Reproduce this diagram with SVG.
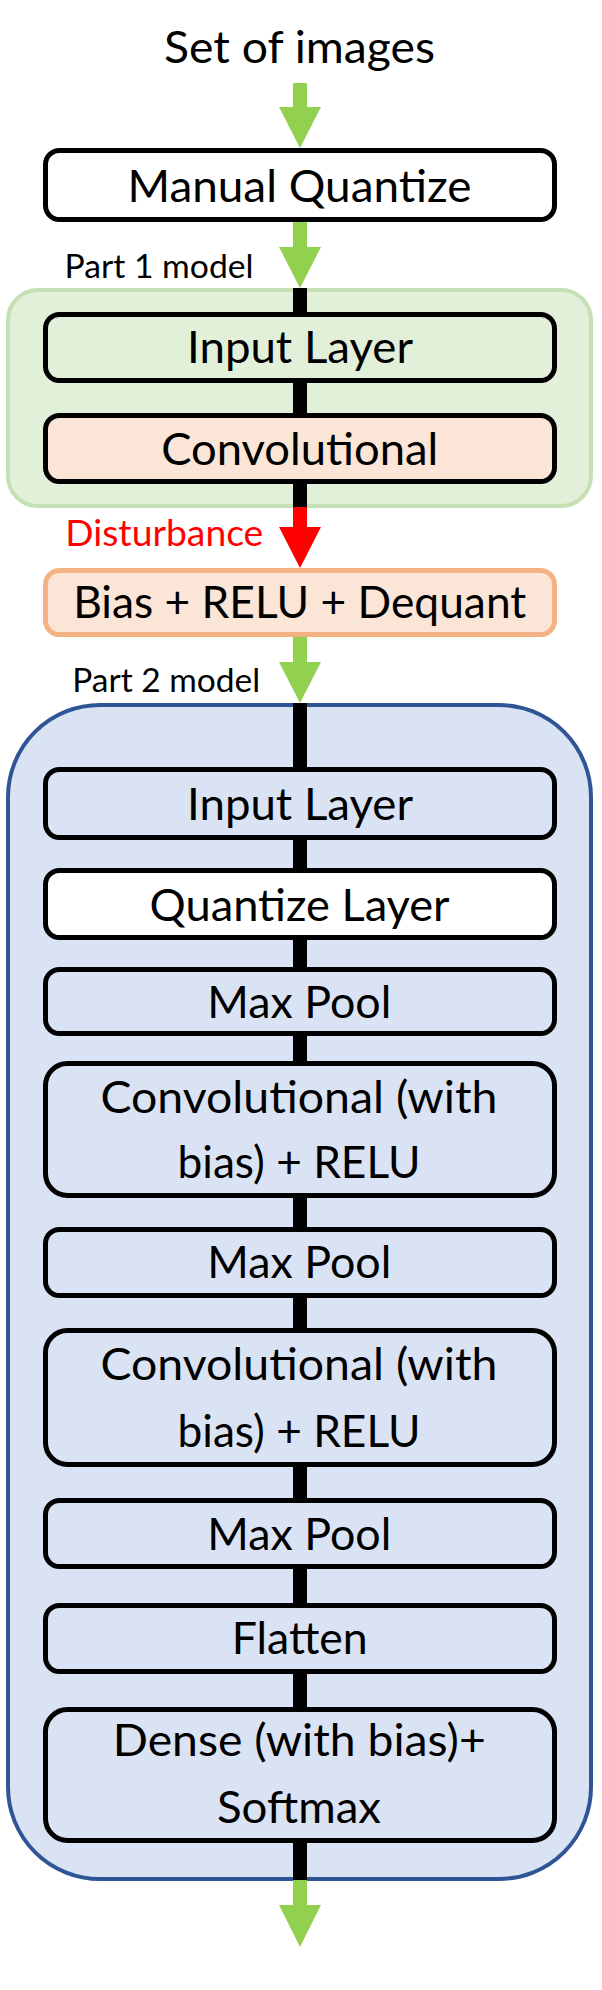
<svg xmlns="http://www.w3.org/2000/svg" width="602" height="1990" viewBox="0 0 602 1990">
<style>
text{font-family:Lato,"Open Sans","Liberation Sans",sans-serif;fill:#000;text-anchor:middle}
.big{font-size:44px}
.lbl{font-size:33px;text-anchor:start}
.box{stroke:#000;stroke-width:5}
.white{fill:#fff}
.green{fill:#E2F0D9}
.peach{fill:#FBE5D6}
.blue{fill:#DAE3F3}
.ga{fill:#92D050}
.ra{fill:#FF0000}
.wire{stroke:#000;stroke-width:14;fill:none}
</style>
<rect width="602" height="1990" fill="#fff"/>
<g id="part1-container">
<rect x="8" y="290" width="583" height="216" rx="30" fill="#E2F0D9" stroke="#C5E0B4" stroke-width="4"/>
</g>
<g id="part2-container">
<rect x="8" y="705" width="583" height="1174" rx="92" fill="#DAE3F3" stroke="#2F5597" stroke-width="4"/>
</g>
<g id="connectors">
<line class="wire" x1="300" y1="288" x2="300" y2="508"/>
<line class="wire" x1="300" y1="703" x2="300" y2="1881"/>
<polygon class="ga" points="293,83 307,83 307,107 321,107 300,148 279,107 293,107"/>
<polygon class="ga" points="293,222 307,222 307,247 321,247 300,288 279,247 293,247"/>
<polygon class="ra" points="293,507 307,507 307,527 321,527 300,568 279,527 293,527"/>
<polygon class="ga" points="293,637 307,637 307,662 321,662 300,703 279,662 293,662"/>
<polygon class="ga" points="293,1880 307,1880 307,1905 321,1905 300,1947 279,1905 293,1905"/>
</g>
<g id="label-set-of-images">
<text class="big" x="299.5" y="63" textLength="271" lengthAdjust="spacingAndGlyphs">Set of images</text>
</g>
<g id="manual-quantize">
<rect class="box white" x="45.5" y="150.5" width="509" height="69" rx="14"/>
<text class="big" x="299.5" y="202" textLength="344" lengthAdjust="spacingAndGlyphs">Manual Quantize</text>
</g>
<g id="label-part1">
<text class="lbl" x="64.5" y="278" textLength="189" lengthAdjust="spacingAndGlyphs">Part 1 model</text>
</g>
<g id="input-layer-1">
<rect class="box green" x="45.5" y="314.5" width="509" height="66" rx="14"/>
<text class="big" x="300" y="363" textLength="226" lengthAdjust="spacingAndGlyphs">Input Layer</text>
</g>
<g id="convolutional-1">
<rect class="box peach" x="45.5" y="415.5" width="509" height="66" rx="14"/>
<text class="big" x="299.7" y="465" textLength="277" lengthAdjust="spacingAndGlyphs">Convolutional</text>
</g>
<g id="label-disturbance">
<text x="65.3" y="546" style="font-size:36px;text-anchor:start;fill:#FF0000" textLength="198" lengthAdjust="spacingAndGlyphs">Disturbance</text>
</g>
<g id="bias-relu-dequant">
<rect x="45.5" y="570.5" width="509" height="64" rx="14" fill="#FBE5D6" stroke="#F4B183" stroke-width="5"/>
<text class="big" x="299.7" y="618" textLength="453" lengthAdjust="spacingAndGlyphs">Bias + RELU + Dequant</text>
</g>
<g id="label-part2">
<text class="lbl" x="72.2" y="692" textLength="188" lengthAdjust="spacingAndGlyphs">Part 2 model</text>
</g>
<g id="input-layer-2">
<rect class="box blue" x="45.5" y="769.5" width="509" height="68" rx="14"/>
<text class="big" x="300" y="820" textLength="226" lengthAdjust="spacingAndGlyphs">Input Layer</text>
</g>
<g id="quantize-layer">
<rect class="box white" x="45.5" y="870.5" width="509" height="67" rx="14"/>
<text class="big" x="299.6" y="921" textLength="300" lengthAdjust="spacingAndGlyphs">Quantize Layer</text>
</g>
<g id="max-pool-1">
<rect class="box blue" x="45.5" y="969.5" width="509" height="64" rx="14"/>
<text class="big" x="299.3" y="1018" textLength="184" lengthAdjust="spacingAndGlyphs">Max Pool</text>
</g>
<g id="conv-relu-1">
<rect class="box blue" x="45.5" y="1063.5" width="509" height="132" rx="22"/>
<text class="big" x="299" y="1113" textLength="397" lengthAdjust="spacingAndGlyphs">Convolutional (with</text>
<text class="big" x="299" y="1178" textLength="243" lengthAdjust="spacingAndGlyphs">bias) + RELU</text>
</g>
<g id="max-pool-2">
<rect class="box blue" x="45.5" y="1229.5" width="509" height="66" rx="14"/>
<text class="big" x="299.3" y="1278" textLength="184" lengthAdjust="spacingAndGlyphs">Max Pool</text>
</g>
<g id="conv-relu-2">
<rect class="box blue" x="45.5" y="1330.5" width="509" height="134" rx="22"/>
<text class="big" x="299" y="1380" textLength="397" lengthAdjust="spacingAndGlyphs">Convolutional (with</text>
<text class="big" x="299" y="1447" textLength="243" lengthAdjust="spacingAndGlyphs">bias) + RELU</text>
</g>
<g id="max-pool-3">
<rect class="box blue" x="45.5" y="1500.5" width="509" height="66" rx="14"/>
<text class="big" x="299.3" y="1550" textLength="184" lengthAdjust="spacingAndGlyphs">Max Pool</text>
</g>
<g id="flatten">
<rect class="box blue" x="45.5" y="1605.5" width="509" height="66" rx="14"/>
<text class="big" x="299.7" y="1654" textLength="136" lengthAdjust="spacingAndGlyphs">Flatten</text>
</g>
<g id="dense-softmax">
<rect class="box blue" x="45.5" y="1709.5" width="509" height="131" rx="22"/>
<text class="big" x="299.3" y="1756" textLength="373" lengthAdjust="spacingAndGlyphs">Dense (with bias)+</text>
<text class="big" x="299" y="1823" textLength="164" lengthAdjust="spacingAndGlyphs">Softmax</text>
</g>
</svg>
